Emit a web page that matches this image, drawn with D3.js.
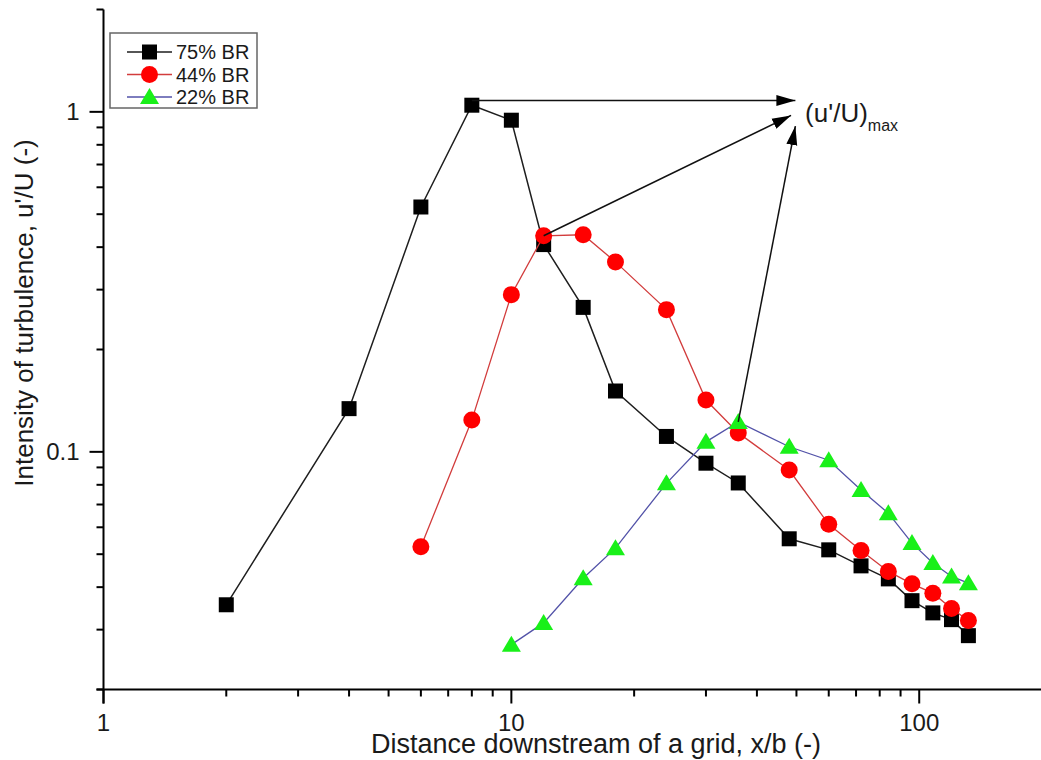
<!DOCTYPE html>
<html>
<head>
<meta charset="utf-8">
<script src="https://cdn.jsdelivr.net/npm/d3@7"></script>
<style>
  body { margin: 0; background: #fff; }
  text { font-family: Arial, "Liberation Sans", sans-serif; fill: #1a1a1a; }
</style>
</head>
<body>
<script>
// data
const xValues75 = [2, 4, 6, 8, 10, 12, 15, 18, 24, 30, 36, 48, 60, 72, 84, 96, 108, 120, 132];
const br75 = [0.0355, 0.134, 0.525, 1.046, 0.945, 0.407, 0.266, 0.151, 0.111, 0.0926, 0.081, 0.0555, 0.0515, 0.0462, 0.0423, 0.0365, 0.0336, 0.0321, 0.0288];

const xValues44 = [6, 8, 10, 12, 15, 18, 24, 30, 36, 48, 60, 72, 84, 96, 108, 120, 132];
const br44 = [0.0526, 0.124, 0.290, 0.432, 0.435, 0.362, 0.262, 0.142, 0.1137, 0.0884, 0.0612, 0.0513, 0.0445, 0.0409, 0.0384, 0.0346, 0.0319];

const xValues22 = [10, 12, 15, 18, 24, 30, 36, 48, 60, 72, 84, 96, 108, 120, 132];
const br22 = [0.0271, 0.0314, 0.0425, 0.0521, 0.0808, 0.107, 0.1225, 0.1035, 0.0945, 0.0772, 0.066, 0.0539, 0.0471, 0.043, 0.0411];

const seriesNames = ["75% BR", "44% BR", "22% BR"];
const xTickLabels = [1, 10, 100];
const yTickLabels = [0.1, 1];

// annotation arrows in data units: from each peak to the (u'/U)max label
const arrowTails = [[8, 1.08], [12, 0.432], [36, 0.1225]];
const arrowHeads = [[49.7, 1.08], [48.5, 0.976], [49.7, 0.908]];
const annotationAt = [52.5, 0.933];

const width = 1041, height = 760;

const x = d3.scaleLog().domain([1, 200]).range([103.5, 1042]);
const y = d3.scaleLog().domain([0.02, 2]).range([689.5, 9.5]);

const svg = d3.select("body").append("svg")
  .attr("width", width)
  .attr("height", height);

svg.append("defs").append("marker")
  .attr("id", "head")
  .attr("markerUnits", "userSpaceOnUse")
  .attr("viewBox", "0 -6 20 12")
  .attr("refX", 19)
  .attr("refY", 0)
  .attr("markerWidth", 20)
  .attr("markerHeight", 12)
  .attr("orient", "auto")
  .append("path")
  .attr("d", "M0,-5.5L19,0L0,5.5Z")
  .attr("fill", "#000");

// axes (left and bottom only)
const isMajor = v => Math.abs(Math.log10(v) - Math.round(Math.log10(v))) < 1e-9;

const xAxis = svg.append("g").attr("transform", "translate(0," + y.range()[0] + ")");
xAxis.append("line")
  .attr("x1", x.range()[0] - 7).attr("x2", width)
  .attr("stroke", "#000").attr("stroke-width", 2);
xAxis.selectAll(".tick")
  .data(x.ticks().filter(v => x(v) <= width))
  .enter().append("line")
  .attr("x1", d => x(d)).attr("x2", d => x(d))
  .attr("y1", 0).attr("y2", d => isMajor(d) ? 14 : 7)
  .attr("stroke", "#000").attr("stroke-width", 2);
xAxis.selectAll(".lbl")
  .data(xTickLabels)
  .enter().append("text")
  .attr("x", d => x(d))
  .attr("y", 41)
  .attr("text-anchor", "middle")
  .style("font-size", "24px")
  .text(d => d);

const yAxis = svg.append("g").attr("transform", "translate(" + x.range()[0] + ",0)");
yAxis.append("line")
  .attr("y1", y.range()[1]).attr("y2", y.range()[0] + 14)
  .attr("stroke", "#000").attr("stroke-width", 2);
yAxis.selectAll(".tick")
  .data(y.ticks())
  .enter().append("line")
  .attr("y1", d => y(d)).attr("y2", d => y(d))
  .attr("x1", 0).attr("x2", d => isMajor(d) ? -14 : -7)
  .attr("stroke", "#000").attr("stroke-width", 2);
yAxis.selectAll(".lbl")
  .data(yTickLabels)
  .enter().append("text")
  .attr("x", -24)
  .attr("y", d => y(d))
  .attr("dy", "0.35em")
  .attr("text-anchor", "end")
  .style("font-size", "24px")
  .text(d => d);

// axis titles
svg.append("text")
  .attr("x", 596)
  .attr("y", 753)
  .attr("text-anchor", "middle")
  .style("font-size", "27px")
  .text("Distance downstream of a grid, x/b (-)");

svg.append("text")
  .attr("transform", "translate(33,313) rotate(-90)")
  .attr("text-anchor", "middle")
  .style("font-size", "26px")
  .text("Intensity of turbulence, u'/U (-)");

// series
const series = [
  { name: seriesNames[0], xs: xValues75, ys: br75, line: "#1e1e1e", lw: 1.5, fill: "#000", shape: "square" },
  { name: seriesNames[1], xs: xValues44, ys: br44, line: "#d23c3c", lw: 1.3, fill: "#ff0000", shape: "circle" },
  { name: seriesNames[2], xs: xValues22, ys: br22, line: "#5252a8", lw: 1.3, fill: "#19f019", shape: "triangle" }
];

const symbolPath = shape => {
  if (shape === "square") return "M-7.5,-7.5H7.5V7.5H-7.5Z";
  if (shape === "triangle") return "M0,-9L9.5,7L-9.5,7Z";
  return d3.symbol(d3.symbolCircle, Math.PI * 8.5 * 8.5)();
};

const line = d3.line().x(d => x(d[0])).y(d => y(d[1]));

series.forEach(s => {
  const pts = s.xs.map((v, i) => [v, s.ys[i]]);
  const g = svg.append("g");
  g.append("path")
    .datum(pts)
    .attr("d", line)
    .attr("fill", "none")
    .attr("stroke", s.line)
    .attr("stroke-width", s.lw);
  g.selectAll(".pt")
    .data(pts)
    .enter().append("path")
    .attr("transform", d => "translate(" + x(d[0]) + "," + y(d[1]) + ")")
    .attr("d", symbolPath(s.shape))
    .attr("fill", s.fill);
});

// arrows
svg.selectAll(".arrow")
  .data(arrowTails.map((t, i) => [t, arrowHeads[i]]))
  .enter().append("line")
  .attr("x1", d => x(d[0][0])).attr("y1", d => y(d[0][1]))
  .attr("x2", d => x(d[1][0])).attr("y2", d => y(d[1][1]))
  .attr("stroke", "#111")
  .attr("stroke-width", 1.5)
  .attr("marker-end", "url(#head)");

const ann = svg.append("text")
  .attr("x", x(annotationAt[0]))
  .attr("y", y(annotationAt[1]))
  .style("font-size", "26px");
ann.append("tspan").text("(u'/U)");
ann.append("tspan").attr("dy", 9).style("font-size", "16px").text("max");

// legend
const legend = svg.append("g").attr("transform", "translate(110,33)");
legend.append("rect")
  .attr("width", 147).attr("height", 75)
  .attr("fill", "#fff")
  .attr("stroke", "#666")
  .attr("stroke-width", 1.5);
const rows = legend.selectAll(".row")
  .data(series)
  .enter().append("g")
  .attr("transform", (d, i) => "translate(0," + (19 + i * 22.5) + ")");
rows.append("line")
  .attr("x1", 17).attr("x2", 62)
  .attr("stroke", d => d.line)
  .attr("stroke-width", d => d.lw);
rows.append("path")
  .attr("transform", "translate(39.5,0)")
  .attr("d", d => symbolPath(d.shape))
  .attr("fill", d => d.fill);
rows.append("text")
  .attr("x", 66)
  .attr("dy", "0.36em")
  .style("font-size", "20px")
  .text(d => d.name);
</script>
</body>
</html>
